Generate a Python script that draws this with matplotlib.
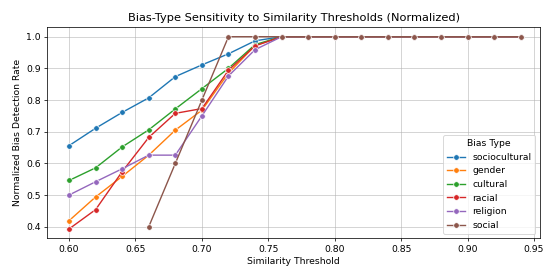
import matplotlib
matplotlib.use("Agg")
import matplotlib.pyplot as plt

plt.rcParams['font.family'] = ['DejaVu Sans']

thresholds = [0.60, 0.62, 0.64, 0.66, 0.68, 0.70, 0.72, 0.74, 0.76, 0.78, 0.80,
              0.82, 0.84, 0.86, 0.88, 0.90, 0.92, 0.94]
tail = [1.0] * 9  # 0.78 .. 0.94

sociocultural = [0.656, 0.711, 0.761, 0.807, 0.874, 0.911, 0.946, 0.987, 1.0] + tail
gender = [0.419, 0.494, 0.559, 0.626, 0.705, 0.768, 0.885, 0.972, 1.0] + tail
cultural = [0.546, 0.586, 0.652, 0.706, 0.772, 0.836, 0.900, 0.975, 1.0] + tail
racial = [0.393, 0.454, 0.574, 0.682, 0.758, 0.773, 0.894, 0.971, 1.0] + tail
religion = [0.500, 0.542, 0.583, 0.626, 0.626, 0.750, 0.876, 0.959, 1.0] + tail
social_x = thresholds[3:]
social = [0.40, 0.60, 0.80, 1.0, 1.0, 1.0] + tail

series = [
    ("sociocultural", thresholds, sociocultural),
    ("gender", thresholds, gender),
    ("cultural", thresholds, cultural),
    ("racial", thresholds, racial),
    ("religion", thresholds, religion),
    ("social", social_x, social),
]
colors = ["#1f77b4", "#ff7f0e", "#2ca02c", "#d62728", "#9467bd", "#8c564b"]

dpi = 66.7
fig = plt.figure(figsize=(543 / dpi, 271 / dpi), dpi=dpi)
ax = fig.add_axes([47 / 543, 1 - 238.3 / 271, (540 - 47) / 543, (238.3 - 26.7) / 271])

for (name, xs, ys), c in zip(series, colors):
    ax.plot(xs, ys, marker="o", color=c, label=name, lw=1.5, markersize=6,
            markeredgecolor="white", markeredgewidth=0.75)

ax.set_xlim(0.5834, 0.9545)
ax.set_ylim(0.3634, 1.0316)
ax.grid(True, alpha=0.7)
ax.set_axisbelow(True)
ax.set_title("Bias-Type Sensitivity to Similarity Thresholds (Normalized)", fontsize=12.3)
ax.set_xlabel("Similarity Threshold", fontsize=10)
ax.set_ylabel("Normalized Bias Detection Rate", fontsize=10)
ax.tick_params(labelsize=10)
ax.legend(title="Bias Type", loc="lower right", fontsize=10, title_fontsize=10)

fig.savefig("out.png", dpi=dpi)
